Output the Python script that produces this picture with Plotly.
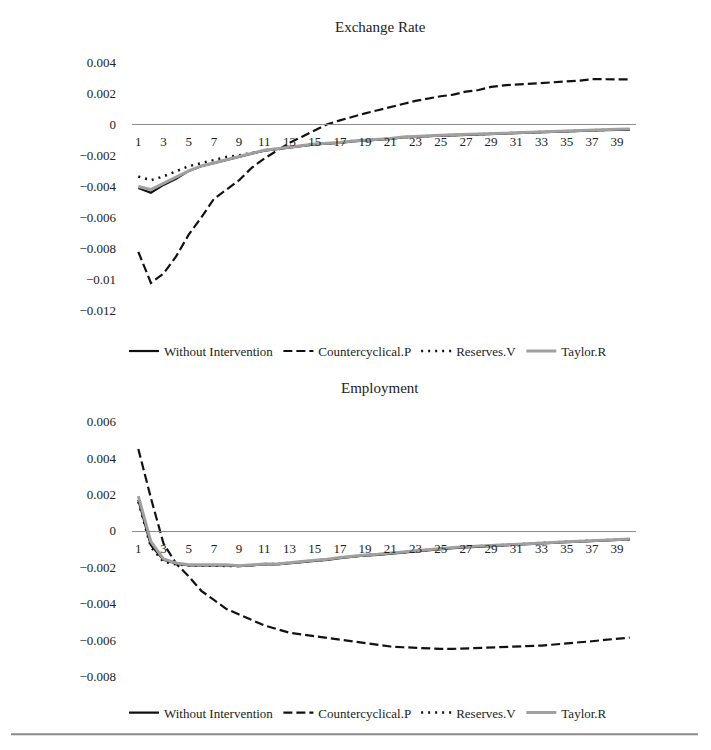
import plotly.graph_objects as go

periods = list(range(1, 41))
series_names = ["Without Intervention", "Countercyclical.P", "Reserves.V", "Taylor.R"]

# Exchange Rate
er_without = [-0.0041, -0.0044, -0.0039, -0.0035, -0.0030, -0.0027, -0.0025, -0.0023, -0.0021, -0.0019,
              -0.0017, -0.0016, -0.0015, -0.0014, -0.0013, -0.00125, -0.0012, -0.0011, -0.00105, -0.0010,
              -0.00095, -0.00085, -0.0008, -0.00077, -0.00074, -0.00071, -0.00068, -0.00065, -0.00062, -0.0006,
              -0.00055, -0.00052, -0.00049, -0.00046, -0.00043, -0.00042, -0.0004, -0.00038, -0.00037, -0.00036]
er_counter = [-0.0082, -0.0102, -0.0096, -0.0085, -0.0071, -0.0060, -0.0048, -0.0042, -0.0036, -0.0028,
              -0.0022, -0.0017, -0.0012, -0.0008, -0.0004, 0.0, 0.00025, 0.0005, 0.0007, 0.0009,
              0.00112, 0.0013, 0.0015, 0.00165, 0.0018, 0.0019, 0.0021, 0.0022, 0.0024, 0.0025,
              0.00255, 0.0026, 0.00268, 0.00272, 0.00276, 0.0028, 0.0029, 0.0029, 0.0029, 0.00288]
er_reserves = [-0.00336, -0.0036, -0.00335, -0.0030, -0.0027, -0.0025, -0.0023, -0.0021, -0.0020, -0.00185,
               -0.00168, -0.00158, -0.00148, -0.00138, -0.00128, -0.00123, -0.00118, -0.00108, -0.00103, -0.00098,
               -0.00093, -0.00083, -0.00078, -0.00075, -0.00072, -0.00069, -0.00066, -0.00063, -0.0006, -0.00058,
               -0.00053, -0.0005, -0.00047, -0.00044, -0.00041, -0.0004, -0.00038, -0.00036, -0.00035, -0.00034]
er_taylor = [-0.0040, -0.0042, -0.0038, -0.0034, -0.0030, -0.00268, -0.00247, -0.00227, -0.00207, -0.00187,
             -0.00167, -0.00157, -0.00147, -0.00137, -0.00127, -0.00122, -0.00117, -0.00107, -0.00102, -0.00097,
             -0.00092, -0.00082, -0.00077, -0.00074, -0.00071, -0.00068, -0.00065, -0.00062, -0.00059, -0.00057,
             -0.00052, -0.00049, -0.00046, -0.00043, -0.0004, -0.00039, -0.00035, -0.00033, -0.00032, -0.00031]

# Employment
em_without = [0.0017, -0.0008, -0.0016, -0.0018, -0.0019, -0.0019, -0.0019, -0.0019, -0.00195, -0.0019,
              -0.00185, -0.00185, -0.0018, -0.00172, -0.00165, -0.0016, -0.0015, -0.00142, -0.00136, -0.00132,
              -0.00128, -0.0012, -0.00113, -0.00106, -0.0010, -0.00095, -0.00091, -0.00087, -0.00083, -0.0008,
              -0.00077, -0.00073, -0.0007, -0.00067, -0.00063, -0.0006, -0.00058, -0.00054, -0.0005, -0.00048]
em_counter = [0.0045, 0.0018, -0.0007, -0.0018, -0.0025, -0.0033, -0.0038, -0.0043, -0.0046, -0.0049,
              -0.0052, -0.0054, -0.0056, -0.0057, -0.0058, -0.0059, -0.0060, -0.0061, -0.0062, -0.0063,
              -0.00636, -0.0064, -0.00644, -0.00647, -0.00649, -0.00649, -0.00647, -0.00644, -0.00642, -0.0064,
              -0.00638, -0.00636, -0.00631, -0.00625, -0.0062, -0.00614, -0.00607, -0.006, -0.00593, -0.00587]
em_reserves = [0.0016, -0.0009, -0.0017, -0.00185, -0.0019, -0.0019, -0.0019, -0.0019, -0.00194, -0.00189,
               -0.00183, -0.00183, -0.00178, -0.0017, -0.00163, -0.00158, -0.00148, -0.0014, -0.00134, -0.0013,
               -0.00126, -0.00118, -0.00111, -0.00104, -0.00098, -0.00093, -0.00088, -0.00084, -0.0008, -0.00077,
               -0.00074, -0.0007, -0.00067, -0.00064, -0.0006, -0.00057, -0.00055, -0.00051, -0.00048, -0.00046]
em_taylor = [0.0019, -0.0006, -0.00155, -0.00177, -0.00187, -0.00187, -0.00187, -0.00187, -0.00192, -0.00187,
             -0.00182, -0.00182, -0.00177, -0.00169, -0.00162, -0.00157, -0.00147, -0.00139, -0.00133, -0.00129,
             -0.00125, -0.00117, -0.0011, -0.00103, -0.00097, -0.00092, -0.00088, -0.00084, -0.0008, -0.00077,
             -0.00074, -0.0007, -0.00067, -0.00064, -0.0006, -0.00057, -0.00055, -0.00051, -0.00047, -0.00045]

er_tickvals = [0.004, 0.002, 0, -0.002, -0.004, -0.006, -0.008, -0.01, -0.012]
er_ticktext = ["0.004", "0.002", "0", "\u22120.002", "\u22120.004", "\u22120.006", "\u22120.008", "\u22120.01", "\u22120.012"]
em_tickvals = [0.006, 0.004, 0.002, 0, -0.002, -0.004, -0.006, -0.008]
em_ticktext = ["0.006", "0.004", "0.002", "0", "\u22120.002", "\u22120.004", "\u22120.006", "\u22120.008"]
x_tickvals = list(range(1, 41, 2))
titles = ["Exchange Rate", "Employment"]

# The page body has an 8px default margin; lay out in window pixels and shift.
OFF = 8
WIN_W, WIN_H = 711, 750
W, H = WIN_W - OFF, WIN_H - OFF
FONT = "Liberation Serif"
styles = [
    dict(color="#111111", width=2.2, dash="solid"),
    dict(color="#111111", width=2.2, dash="9px,4px"),
    dict(color="#111111", width=2.5, dash="2px,5px"),
    dict(color="#a0a0a0", width=3, dash="solid"),
]

# layout in window pixels
plot_left, plot_right = 132, 636
top_px = (56, 310)      # y px of range max / min for top chart
bot_px = (423, 683)
er_range = [-0.012, 0.004]
em_range = [-0.008, 0.006]

L = plot_left - OFF
R = W - (plot_right - OFF)

def px_x(px):
    return (px - OFF - L) / (W - L - R)

def px_y(px):
    return 1 - (px - OFF) / H

def dom(px):
    return [px_y(px[1]), px_y(px[0])]

fig = go.Figure()
groups = [
    (er_without, er_counter, er_reserves, er_taylor),
    (em_without, em_counter, em_reserves, em_taylor),
]
for gi, data in enumerate(groups):
    for si, vals in enumerate(data):
        fig.add_trace(go.Scatter(
            x=periods, y=vals, mode="lines", name=series_names[si],
            line=styles[si],
            xaxis="x" if gi == 0 else "x2",
            yaxis="y" if gi == 0 else "y2",
            legend="legend" if gi == 0 else "legend2",
        ))

def zero_pos(d, r):
    return d[0] + (0 - r[0]) / (r[1] - r[0]) * (d[1] - d[0])

d1, d2 = dom(top_px), dom(bot_px)
xcommon = dict(range=[0.5, 40.5], tickvals=x_tickvals, showgrid=False, zeroline=False,
               showline=True, linecolor="#8c8c8c", linewidth=1.3, ticks="",
               ticklabelstandoff=5, tickfont=dict(family=FONT, size=13, color="#222"))
ycommon = dict(showgrid=False, zeroline=False, showline=False, ticks="",
               ticklabelstandoff=15, tickfont=dict(family=FONT, size=13, color="#222"))
legcommon = dict(orientation="h", xanchor="center", yanchor="middle",
                 font=dict(family=FONT, size=13, color="#222"),
                 itemwidth=30, tracegroupgap=0, bgcolor="rgba(0,0,0,0)")

fig.update_layout(
    width=W, height=H,
    margin=dict(l=L, r=R, t=0, b=0),
    paper_bgcolor="white", plot_bgcolor="white",
    showlegend=True,
    xaxis=dict(xcommon, domain=[0, 1], anchor="free", position=zero_pos(d1, er_range)),
    yaxis=dict(ycommon, domain=d1, range=er_range, tickvals=er_tickvals, ticktext=er_ticktext),
    xaxis2=dict(xcommon, domain=[0, 1], anchor="free", position=zero_pos(d2, em_range)),
    yaxis2=dict(ycommon, domain=d2, range=em_range, tickvals=em_tickvals, ticktext=em_ticktext),
    legend=dict(legcommon, x=px_x(368), y=px_y(351)),
    legend2=dict(legcommon, x=px_x(368), y=px_y(720)),
    annotations=[
        dict(text=titles[0], x=px_x(380), y=px_y(20), xref="paper", yref="paper",
             showarrow=False, font=dict(family=FONT, size=15, color="#222"), xanchor="center", yanchor="middle"),
        dict(text=titles[1], x=px_x(380), y=px_y(389), xref="paper", yref="paper",
             showarrow=False, font=dict(family=FONT, size=15, color="#222"), xanchor="center", yanchor="middle"),
    ],
    shapes=[
        dict(type="line", xref="paper", yref="paper", x0=px_x(11), x1=px_x(698),
             y0=px_y(742), y1=px_y(742), line=dict(color="#8a8a8a", width=2)),
    ],
)

fig.write_html("out.html")
